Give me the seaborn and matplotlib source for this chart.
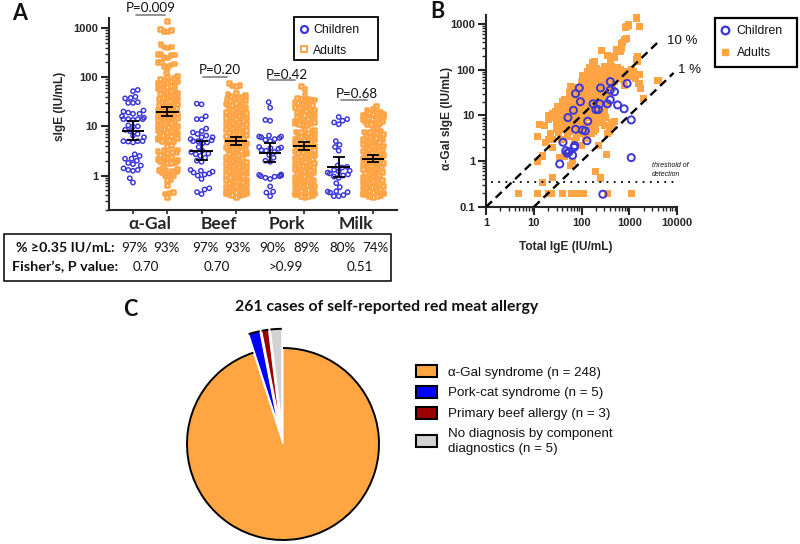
import numpy as np
import pandas as pd
import matplotlib
matplotlib.use("Agg")
import matplotlib.pyplot as plt
import seaborn as sns
from matplotlib.lines import Line2D
from matplotlib.patches import Arc, Patch, Rectangle
from matplotlib.ticker import LogLocator, NullFormatter

# --- panel A: swarm values ---
GROUPS = ["a-c", "a-a", "b-c", "b-a", "p-c", "p-a", "m-c", "m-a"]
ALLERGENS = ["α-Gal", "Beef", "Pork", "Milk"]

gal_children = [55, 52, 40, 38, 37, 30, 30, 31, 21, 20, 19, 18, 18, 16, 15, 14, 14, 14, 14, 13.5,
                10.5, 10, 9.8, 8.5, 8, 7, 6.5, 6, 5, 5, 5, 4.9, 4.7, 2.7, 2.5, 2.2, 2.2, 2.0, 1.8,
                1.7, 1.6, 1.4, 1.3, 1.3, 1.25, 0.88, 0.72]
beef_children = [29, 28, 16, 14, 14, 9, 8, 7.5, 7, 6.5, 6, 6, 5.5, 5.2, 5, 5, 4.7, 4.5, 3.8, 3.2, 3,
                 2.8, 2.7, 2.5, 2.3, 2, 1.9, 1.3, 1.25, 1.2, 1.15, 1.1, 1.05, 1.0, 0.85, 0.55, 0.52,
                 0.46, 0.42]
pork_children = [31, 24, 13.5, 13, 6.5, 6.2, 6.2, 6, 5.8, 5.5, 5.3, 5, 3.8, 3.7, 3.6, 3.5, 3.3, 3.2, 3,
                 2.6, 2.3, 2.0, 1.9, 1.05, 1.03, 1, 0.97, 0.97, 0.95, 0.9, 0.85, 0.6, 0.47, 0.45, 0.38]
milk_children = [15.5, 14, 13, 12, 11, 5, 4.2, 3.8, 3.2, 1.6, 1.5, 1.45, 1.3, 1.25, 1.2, 1.15, 1.1, 1.05,
                 1, 0.95, 0.9, 0.7, 0.58, 0.48, 0.47, 0.46, 0.45, 0.4, 0.38, 0.38]

gal_adults = [1400, 950, 900, 880, 850, 480, 420, 420, 400, 300, 300, 290, 280, 260, 250, 200, 200, 190,
              180, 170, 160, 125,
              104, 100, 96, 92, 89, 85, 82, 79, 76, 73, 70, 67, 65, 62, 60, 57, 55, 53, 51, 49, 47, 45,
              43, 41.5, 40, 38.5, 37, 35.5, 34, 33, 31.5, 30.5, 29, 28, 27, 26, 25, 24, 23, 22.2, 21.4,
              20.5, 19.8, 19, 18.3, 17.6, 17, 16.3, 15.7, 15, 14.5, 14, 13.4, 12.9, 12.4, 12, 11.5, 11,
              10.6, 10.2, 9.8, 9.4, 9.1, 8.7, 8.4, 8.1, 7.8, 7.5, 7.2, 6.9, 6.7, 6.4, 6.2, 5.9, 5.7, 5.5,
              5.2, 5, 5, 4.9, 4.2, 4, 3.4, 3.3, 3.1, 3, 3, 2.9, 2.6, 2.5, 2.4, 2.3, 2.2, 2.1, 2, 1.9, 1.9,
              1.8, 1.8, 1.45, 1.35, 1.3, 1.3, 1.25, 1.2, 1.15, 1.1, 1.0, 1.0, 0.85, 0.82, 0.65, 0.46,
              0.45, 0.43, 0.37]
beef_adults = [75, 70, 68, 65, 48, 46, 44, 42, 40, 38.5, 37, 35.5, 34, 32.8, 31.5, 30.3, 29, 28, 27, 26,
               25, 24, 23, 22.2, 21.4, 20.5, 19.7, 19, 18.2, 17.5, 16.9, 16.2, 15.6, 15, 14.4, 13.9, 13.4,
               12.8, 12.3, 11.9, 11.4, 11, 10.6, 10.2, 9.8, 9.4, 9, 8.7, 8.4, 8, 7.7, 7.4, 7.1, 6.9, 6.6,
               6.4, 6.1, 5.9, 5.7, 5.4, 5.2, 5, 4.8, 4.6, 4.5, 4.3, 4.1, 4, 3.8, 3.7, 3.5, 3.4, 3.3, 3.1,
               3, 2.9, 2.8, 2.7, 2.6, 2.5, 2.4, 2.3, 2.2, 2.1, 2.03, 1.95, 1.88, 1.8, 1.74, 1.67, 1.6, 1.55,
               1.49, 1.43, 1.38, 1.33, 1.28, 1.23, 1.18, 1.14, 1.1, 1.05, 1.01, 0.97, 0.94, 0.9, 0.87, 0.83,
               0.8, 0.77, 0.74, 0.71, 0.69, 0.66, 0.64, 0.61, 0.59, 0.57, 0.55, 0.53, 0.51, 0.49, 0.47, 0.45,
               0.44, 0.43, 0.42, 0.41, 0.4, 0.4, 0.37]
pork_adults = [65, 58, 44, 38, 37, 36, 35, 34, 33, 31.5, 30.3, 29, 28, 27, 26, 25, 24, 23, 22.2, 21.4,
               20.5, 19.7, 19, 18.2, 17.5, 16.9, 16.2, 15.6, 15, 14.4, 13.9, 13.4, 12.8, 12.3, 11.9, 11.5,
               11.2, 10.8, 10.6, 8.8, 8.5, 8.2, 7.9, 7.6, 7.3, 7, 6.8, 6.5, 6.3, 6, 5.8, 5.6, 5.4, 5.2, 5,
               4.8, 4.6, 4.5, 4.3, 4.1, 4, 3.8, 3.7, 3.5, 3.4, 3.3, 3.1, 3, 2.9, 2.8, 2.7, 2.6, 2.5, 2.4,
               2.3, 2.2, 2.1, 2.03, 1.95, 1.88, 1.8, 1.74, 1.67, 1.6, 1.55, 1.49, 1.43, 1.38, 1.33, 1.28,
               1.23, 1.18, 1.14, 1.1, 1.05, 1.01, 0.97, 0.94, 0.9, 0.87, 0.83, 0.8, 0.77, 0.74, 0.71, 0.69,
               0.66, 0.64, 0.61, 0.59, 0.57, 0.55, 0.53, 0.51, 0.49, 0.47, 0.45, 0.44, 0.43, 0.42, 0.41,
               0.4, 0.39, 0.38, 0.37]
milk_adults = [26, 23, 22, 20, 19, 19, 18, 18, 17, 17, 16, 16, 15, 15, 14, 14, 13, 13, 12, 11.5, 11, 11,
               9.5, 9, 8.2, 7.9, 7.6, 7.3, 7, 6.8, 6.5, 6.3, 6, 5.8, 5.6, 5.4, 5.2, 5, 4.8, 4.6, 4.5, 4.3,
               4.1, 4, 3.8, 3.7, 3.5, 3.4, 3.3, 3.1, 3, 2.9, 2.8, 2.7, 2.6, 2.5, 2.4, 2.3, 2.2, 2.1, 2.03,
               1.95, 1.88, 1.8, 1.74, 1.67, 1.6, 1.55, 1.49, 1.43, 1.38, 1.33, 1.28, 1.23, 1.18, 1.14, 1.1,
               1.05, 1.01, 0.97, 0.94, 0.9, 0.87, 0.83, 0.8, 0.77, 0.74, 0.71, 0.69, 0.66, 0.64, 0.61, 0.59,
               0.57, 0.55, 0.53, 0.51, 0.49, 0.47, 0.45, 0.44, 0.43, 0.42, 0.41, 0.4, 0.39, 0.38, 0.37]

# geometric mean and 95% CI, one per group
gm_mid = [8.2, 20, 3.1, 5, 2.9, 4, 1.5, 2.2]
gm_low = [5.2, 16.5, 2.1, 4.2, 1.9, 3.3, 0.95, 1.9]
gm_high = [13, 25, 5, 6.2, 4.6, 4.9, 2.4, 2.6]

p_labels = ["P=0.009", "P=0.20", "P=0.42", "P=0.68"]
pct_labels = ["97%", "93%", "97%", "93%", "90%", "89%", "80%", "74%"]
fisher_labels = ["0.70", "0.70", ">0.99", "0.51"]

# --- panel B ---
child_total = [35, 41, 47, 50, 55, 65, 70, 72, 52, 68, 75, 75, 90, 95, 105, 120, 130, 135, 175, 200, 225,
               240, 250, 280, 350, 400, 400, 400, 490, 570, 780, 900, 1100, 1100]
child_sige = [0.87, 2.6, 1.7, 1.5, 1.6, 1.35, 2.0, 2.2, 9, 13, 5, 30, 40, 20, 4.8, 4.6, 2.8, 7.5, 18, 13.5,
              13.5, 18, 40, 0.19, 18, 22, 36, 55, 33, 17, 14, 50, 8, 1.2]
adult_total = [1450, 1620, 950, 870, 820, 870, 780, 730, 700, 260,
               350, 400, 490, 530, 620, 700, 660, 190, 170, 1500,
               1450, 1500, 1100, 1200, 1600, 1350, 1050, 950, 1600, 1750,
               1950, 4000, 800, 880, 750, 620, 1100, 350, 250, 200,
               340, 230, 350, 380, 420, 430, 500, 450, 400, 4.8,
               12, 20, 24, 40, 62, 70, 80, 90, 110, 15,
               25, 12, 13, 17, 20, 20, 22, 20, 18, 25,
               25, 32, 28, 30, 35, 37, 40, 12, 15, 35,
               45, 60, 65, 70, 100, 80, 22, 25, 30, 33,
               38, 42, 45, 48, 50, 52, 55, 58, 60, 62,
               65, 68, 70, 72, 75, 78, 80, 82, 85, 88,
               90, 92, 95, 98, 100, 102, 105, 108, 110, 112,
               115, 118, 120, 125, 128, 130, 135, 138, 140, 145,
               148, 150, 155, 158, 160, 165, 170, 175, 180, 185,
               190, 195, 200, 205, 210, 215, 220, 225, 230, 235,
               240, 245, 250, 255, 260, 270, 280, 290, 300, 310,
               320, 330, 340, 350, 360, 380, 400, 420, 440, 460,
               480, 500, 520, 550, 580, 600, 250, 270, 300, 150,
               180, 120, 210, 45, 55, 35, 40, 60, 75, 130,
               85, 95, 110, 140, 165, 200, 230, 180, 125, 105,
               135, 160, 190, 215, 245, 280, 150, 170, 205, 235,
               660, 720, 560, 510, 470, 430, 390, 360, 330, 300,
               70, 85, 100, 130, 160, 200, 240, 280, 320, 300,
               30, 38, 50, 55, 28, 35, 45, 50, 60, 40]
adult_sige = [1350, 900, 950, 880, 830, 480, 450, 400, 370, 260,
              200, 170, 190, 280, 270, 290, 250, 150, 140, 190,
              170, 150, 100, 90, 80, 65, 75, 70, 50, 38,
              24, 58, 45, 90, 60, 90, 0.2, 0.2, 0.43, 0.6,
              1.4, 2.2, 4, 4.5, 5.5, 7, 7.5, 6.5, 5, 0.2,
              0.2, 0.2, 0.2, 0.2, 0.2, 0.2, 0.2, 0.2, 0.2, 0.35,
              0.45, 3.5, 6.3, 6, 10, 8, 4, 3, 2.6, 2,
              3, 16, 9, 7, 6, 10, 12, 1, 1.3, 1.2,
              1.3, 0.8, 1, 2.8, 2.2, 3.3, 9, 11, 11, 4.2,
              5, 7, 13, 9, 6, 22, 32, 14, 42, 18,
              8, 24, 11, 5.5, 40, 17, 28, 7, 14, 35,
              22, 10, 6, 52, 30, 16, 42, 8, 60, 25,
              12, 35, 5, 48, 20, 70, 9, 28, 55, 15,
              40, 80, 24, 62, 11, 33, 50, 85, 7, 18,
              70, 28, 42, 58, 90, 22, 12, 35, 75, 50,
              95, 30, 65, 10, 45, 85, 25, 55, 100, 38,
              70, 18, 50, 95, 30, 80, 60, 100, 42, 75,
              90, 55, 70, 100, 85, 65, 9.5, 8.5, 13, 6,
              4.5, 3.2, 7, 22, 28, 8, 16, 6, 13, 4.2,
              20, 13, 18, 30, 25, 16, 20, 10, 38, 75,
              90, 65, 38, 75, 60, 40, 110, 95, 105, 90,
              100, 80, 110, 105, 100, 115, 95, 110, 105, 120,
              5, 4, 5, 5.5, 4, 5, 7, 8, 9, 6,
              5, 3, 3.5, 4.5, 12, 14, 17, 12, 11, 20]
ratio10_x = [1, 4000]
ratio10_y = [0.1, 400]
ratio1_x = [10, 8500]
ratio1_y = [0.1, 85]
threshold_x = [1.25, 9500]
threshold_y = [0.35, 0.35]

# --- panel C ---
pie_labels = ["α-Gal syndrome (n = 248)", "Pork-cat syndrome (n = 5)", "Primary beef allergy (n = 3)",
              "No diagnosis by component\ndiagnostics (n = 5)"]
pie_counts = [248, 5, 3, 5]
pie_colors = ["#FFA542", "#0000FF", "#990000", "#D2D2D2"]

BLUE = "#3A36D8"
ORANGE = "#FFA445"
SANS = ["Liberation Sans", "DejaVu Sans"]
HUMAN = ["Lato", "Open Sans", "DejaVu Sans"]

sns.set_theme(style="ticks")
plt.rcParams["font.family"] = SANS
plt.rcParams["text.color"] = "#111111"


def fx(px):
    return px / 800


def fy(py):
    return 1 - py / 544


def axes_at(fig, left, top, right, bottom):
    return fig.add_axes([fx(left), fy(bottom), (right - left) / 800, (bottom - top) / 544])


def log_ticks(axis):
    axis.set_minor_locator(LogLocator(base=10, subs=range(2, 10), numticks=12))
    axis.set_minor_formatter(NullFormatter())


def boxed_legend(fig, handles, labels, left, top, right, bottom, textpad, spacing, lw):
    # the box is wider than the entries need, so it is drawn on its own
    fig.add_artist(Rectangle((fx(left), fy(bottom)), (right - left) / 800, (bottom - top) / 544,
                             transform=fig.transFigure, fill=False, edgecolor="black", lw=lw))
    fig.legend(handles, labels, loc="upper left", bbox_to_anchor=(fx(left + 4), fy(top + 7)), frameon=False,
               fontsize=8.8, handletextpad=textpad, labelspacing=spacing, borderpad=0, borderaxespad=0,
               handlelength=1)


def settle_swarm(fig, collections, squeeze):
    # keep the layout seaborn found in the last draw, pulled in towards each column
    for coll in collections:
        if "draw" not in coll.__dict__ or len(coll.get_offsets()) == 0:
            continue
        del coll.draw
        xy = np.array(coll.get_offsets())
        mid = np.round(xy[:, 0])
        xy[:, 0] = mid + squeeze * (xy[:, 0] - mid)
        coll.set_offsets(xy)


def panel_a(fig):
    ax = axes_at(fig, 109, 18, 397, 210)
    ax.set_yscale("log")
    children = pd.DataFrame({
        "group": ["a-c"] * len(gal_children) + ["b-c"] * len(beef_children)
        + ["p-c"] * len(pork_children) + ["m-c"] * len(milk_children),
        "value": gal_children + beef_children + pork_children + milk_children})
    adults = pd.DataFrame({
        "group": ["a-a"] * len(gal_adults) + ["b-a"] * len(beef_adults)
        + ["p-a"] * len(pork_adults) + ["m-a"] * len(milk_adults),
        "value": gal_adults + beef_adults + pork_adults + milk_adults})

    sns.swarmplot(data=children, x="group", y="value", order=GROUPS, ax=ax, marker="o", size=3.1,
                  color=BLUE, edgecolor=BLUE, linewidth=1.05, warn_thresh=1)
    child_colls = list(ax.collections)
    sns.swarmplot(data=adults, x="group", y="value", order=GROUPS, ax=ax, marker="s", size=2.2,
                  color=ORANGE, edgecolor=ORANGE, linewidth=1.4, warn_thresh=1)
    adult_colls = [c for c in ax.collections if c not in child_colls]
    for coll in ax.collections:
        coll.set_facecolor("none")

    ax.set_xlim(-0.7, 7.7)
    ax.set_ylim(0.199, 1596)
    fig.canvas.draw()
    settle_swarm(fig, child_colls, 0.8)
    settle_swarm(fig, adult_colls, 0.72)
    # adults overlap once the layout is kept, which closes the dense band
    for coll in adult_colls:
        coll.set_sizes([2.7 ** 2])
        coll.set_linewidth(1.8)

    pos = list(range(8))
    ax.errorbar(pos, gm_mid, yerr=[[m - l for m, l in zip(gm_mid, gm_low)],
                                   [h - m for m, h in zip(gm_mid, gm_high)]],
                fmt="none", ecolor="black", elinewidth=1.3, capsize=4, capthick=1.3, zorder=5)
    ax.hlines(gm_mid, [p - 0.33 for p in pos], [p + 0.33 for p in pos], color="black", lw=1.4, zorder=5)

    ax.set_xlim(-0.7, 7.7)
    ax.set_ylim(0.199, 1596)
    ax.set_xlabel("")
    ax.set_ylabel("sIgE (IU/mL)", fontsize=8.6, labelpad=5, fontweight="bold", y=0.54)
    ax.set_xticks(pos, [""] * 8)
    ax.set_xticks([0.5, 2.5, 4.5, 6.5], ALLERGENS, minor=True, fontsize=12.5, fontweight="bold",
                  family=HUMAN)
    ax.tick_params(axis="x", which="minor", length=0, pad=4.5)
    ax.tick_params(axis="x", which="major", length=3, width=1.2)
    ax.set_yticks([1, 10, 100, 1000], ["1", "10", "100", "1000"], fontsize=8, fontweight="bold")
    log_ticks(ax.yaxis)
    ax.tick_params(axis="y", which="major", length=6, width=1.5, pad=2)
    ax.tick_params(axis="y", which="minor", length=3, width=1)
    sns.despine(ax=ax)
    ax.spines["left"].set_linewidth(1.5)
    ax.spines["bottom"].set_linewidth(1.5)

    # P values over each pair
    for label, tx, ty, x0, x1, ly in zip(p_labels, [151, 220, 287, 357], [8, 70, 75, 94],
                                         [136, 203, 269, 341], [165, 227, 295, 367], [14.5, 77, 80, 100]):
        fig.text(fx(tx), fy(ty), label, ha="center", va="center", fontsize=9.6, family=HUMAN)
        fig.add_artist(Line2D([fx(x0), fx(x1)], [fy(ly), fy(ly)], color="#808080", lw=1.2))

    handles = [Line2D([], [], marker="o", ls="", mfc="none", mec=BLUE, mew=1.6, ms=5),
               Line2D([], [], marker="s", ls="", mfc="none", mec=ORANGE, mew=1.4, ms=4.5)]
    boxed_legend(fig, handles, ["Children", "Adults"], 294, 17, 378, 60, 0.25, 0.7, 1.3)

    # summary table under the swarm
    fig.add_artist(Rectangle((fx(4), fy(281)), 387 / 800, 47 / 544, transform=fig.transFigure,
                             fill=False, edgecolor="black", lw=1.1))
    fig.text(fx(115), fy(248), "% ≥0.35 IU/mL:", ha="right", va="center", fontsize=10.2,
             fontweight="bold", family=HUMAN)
    fig.text(fx(118), fy(267), "Fisher’s, P value:", ha="right", va="center", fontsize=10.4,
             fontweight="bold", family=HUMAN)
    for label, tx in zip(pct_labels, [134, 166, 205, 237, 272, 307, 343, 375]):
        fig.text(fx(tx), fy(248), label, ha="center", va="center", fontsize=9.6, family=HUMAN)
    for label, tx in zip(fisher_labels, [146, 217, 286, 360]):
        fig.text(fx(tx), fy(267), label, ha="center", va="center", fontsize=9.6, family=HUMAN)


def panel_b(fig):
    ax = axes_at(fig, 486, 15, 677, 207)
    ax.set_xscale("log")
    ax.set_yscale("log")
    adults = pd.DataFrame({"total": adult_total, "sige": adult_sige})
    children = pd.DataFrame({"total": child_total, "sige": child_sige})
    sns.scatterplot(data=adults, x="total", y="sige", ax=ax, marker="s", s=26, color=ORANGE,
                    edgecolor="none", clip_on=False, zorder=2)
    sns.lineplot(x=ratio10_x, y=ratio10_y, ax=ax, color="black", lw=1.7, ls=(0, (3.5, 2.2)), zorder=3)
    sns.lineplot(x=ratio1_x, y=ratio1_y, ax=ax, color="black", lw=1.7, ls=(0, (3.5, 2.2)), zorder=3)
    sns.lineplot(x=threshold_x, y=threshold_y, ax=ax, color="black", lw=1.3, ls=(0, (1, 3)), zorder=3)
    sns.scatterplot(data=children, x="total", y="sige", ax=ax, marker="o", s=26, edgecolor=BLUE,
                    linewidth=1.4, clip_on=False, zorder=4)
    ax.collections[-1].set_facecolor("none")

    ax.set_xlim(1, 10000)
    ax.set_ylim(0.1, 1570)
    ax.set_xticks([1, 10, 100, 1000, 10000], ["1", "10", "100", "1000", "10000"], fontsize=8,
                  fontweight="bold")
    ax.set_yticks([0.1, 1, 10, 100, 1000], ["0.1", "1", "10", "100", "1000"], fontsize=8,
                  fontweight="bold")
    log_ticks(ax.xaxis)
    log_ticks(ax.yaxis)
    ax.tick_params(which="major", length=6, width=1.5, pad=2)
    ax.tick_params(which="minor", length=3, width=1)
    ax.set_xlabel("Total IgE (IU/mL)", fontsize=8.6, fontweight="bold", labelpad=9, x=0.42)
    ax.set_ylabel("α-Gal sIgE (IU/mL)", fontsize=8.6, fontweight="bold", labelpad=-2, y=0.463)
    sns.despine(ax=ax)
    ax.spines["left"].set_linewidth(1.5)
    ax.spines["bottom"].set_linewidth(1.5)

    fig.text(fx(667), fy(41), "10 %", va="center", fontsize=9.5)
    fig.text(fx(678), fy(70), "1 %", va="center", fontsize=9.5)
    fig.text(fx(652), fy(170), "threshold of\ndetection", va="center", fontsize=5, style="italic",
             linespacing=1.5)

    handles = [Line2D([], [], marker="o", ls="", mfc="none", mec=BLUE, mew=1.6, ms=5.5),
               Line2D([], [], marker="s", ls="", mfc=ORANGE, mec=ORANGE, ms=5)]
    boxed_legend(fig, handles, ["Children", "Adults"], 715, 18, 797, 67, 0.45, 0.85, 1.6)


def panel_c(fig):
    ax = axes_at(fig, 183, 324, 383, 544)
    # counter-clockwise from 12 o'clock: grey, red, blue, then the big slice
    sizes = pie_counts[::-1]
    colors = pie_colors[::-1]
    wedges, _ = ax.pie(sizes, colors=colors, startangle=90, explode=[0.2, 0.2, 0.2, 0], radius=1,
                       wedgeprops={"edgecolor": "white", "linewidth": 0.8})
    for w in wedges:
        ax.add_patch(Arc(w.center, 2 * w.r, 2 * w.r, theta1=w.theta1, theta2=w.theta2, color="black",
                         lw=1.4, clip_on=False))
    ax.set_xlim(-1.0417, 1.0417)
    ax.set_ylim(-1.0417, 1.25)
    ax.set_aspect("equal")

    fig.text(fx(387), fy(307), "261 cases of self-reported red meat allergy", ha="center", va="center",
             fontsize=11.4, fontweight="bold", family=HUMAN)
    handles = [Patch(facecolor=c, edgecolor="black", linewidth=1.5) for c in pie_colors]
    leg = fig.legend(handles, pie_labels, loc="upper left", bbox_to_anchor=(fx(416), fy(365)), frameon=False,
                     fontsize=9.6, handlelength=1.58, handleheight=1.0, handletextpad=0.83, labelspacing=0.55,
                     borderpad=0, borderaxespad=0)
    leg.get_texts()[3].set_linespacing(1.4)


def main():
    fig = plt.figure(figsize=(8, 5.44), dpi=100)
    panel_a(fig)
    panel_b(fig)
    panel_c(fig)
    for letter, tx, ty in zip("ABC", [20, 437, 130], [13, 12, 310]):
        fig.text(fx(tx), fy(ty), letter, ha="center", va="center", fontsize=15.5, fontweight="bold",
                 family=HUMAN)
    fig.savefig("out.png", dpi=100)


if __name__ == "__main__":
    main()
